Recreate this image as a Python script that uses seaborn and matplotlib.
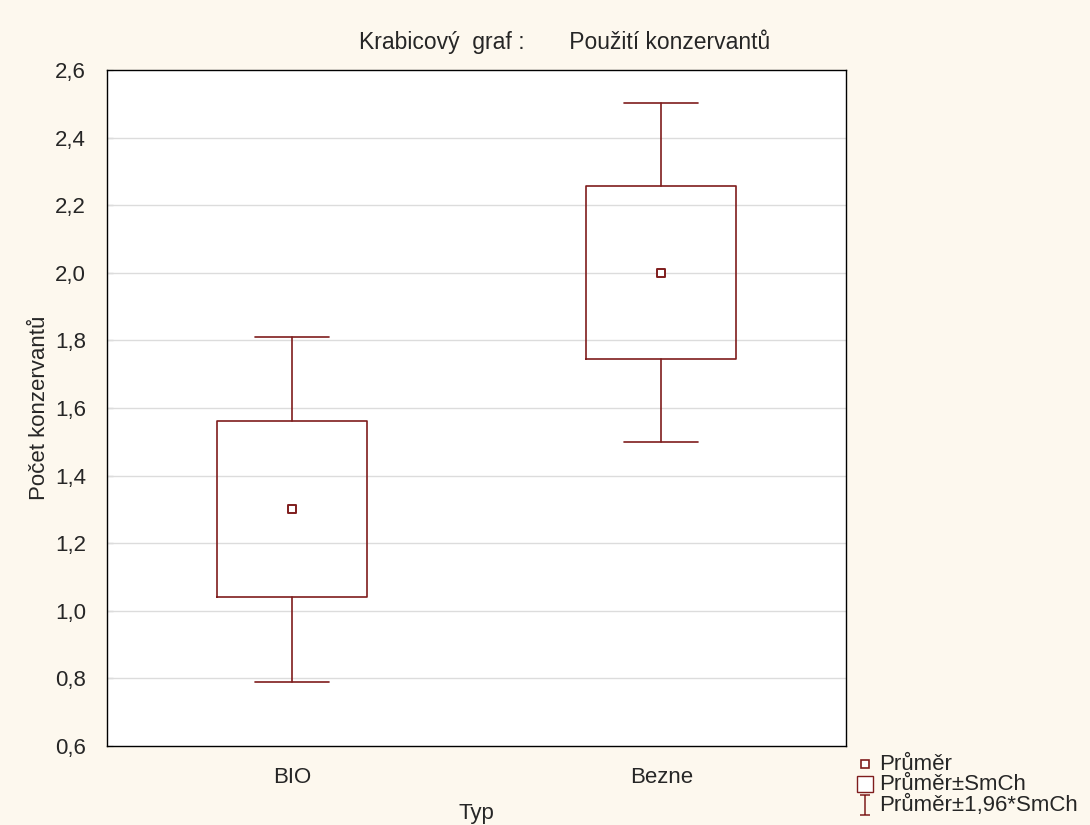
import matplotlib
matplotlib.use("Agg")
import matplotlib.pyplot as plt
import numpy as np
import pandas as pd
import seaborn as sns
from matplotlib.lines import Line2D
from matplotlib.path import Path
from matplotlib.ticker import FuncFormatter

# values
categories = ["BIO", "Bezne"]
means = [1.30, 2.00]
se = [0.26, 0.256]
yticks = [0.6, 0.8, 1.0, 1.2, 1.4, 1.6, 1.8, 2.0, 2.2, 2.4, 2.6]
legend_labels = ["Průměr", "Průměr±SmCh", "Průměr±1,96*SmCh"]

DARK_RED = "#7f1d1d"
BG = "#fdf8ee"
FS = 16

sns.set_theme(style="white")
plt.rcParams["font.family"] = ["Liberation Sans", "DejaVu Sans"]

fig = plt.figure(figsize=(10.9, 8.25), dpi=100, facecolor=BG)
ax = fig.add_axes([0.0982, 0.0958, 0.678, 0.8194])
ax.set_facecolor("white")

stats = []
for cat, m, s in zip(categories, means, se):
    stats.append({
        "label": cat, "med": m, "mean": m,
        "q1": m - s, "q3": m + s,
        "whislo": m - 1.96 * s, "whishi": m + 1.96 * s,
        "fliers": [],
    })

line_kw = dict(color=DARK_RED, linewidth=1.2)
ax.bxp(stats, positions=[0, 1], widths=0.405, capwidths=0.2,
       showmeans=False, showfliers=False,
       boxprops=line_kw, whiskerprops=line_kw, capprops=line_kw,
       medianprops=dict(linewidth=0), zorder=3)

df = pd.DataFrame({"Typ": [0, 1], "mean": means})
sns.scatterplot(data=df, x="Typ", y="mean", marker="s", s=40, color="white",
                edgecolor=DARK_RED, linewidth=1.4, ax=ax, zorder=4, legend=False)

ax.set_xlim(-0.5, 1.5)
ax.set_ylim(0.6, 2.6)
ax.set_yticks(yticks)
ax.yaxis.set_major_formatter(FuncFormatter(lambda v, _: f"{v:.1f}".replace(".", ",")))
ax.set_xticks([0, 1])
ax.set_xticklabels(categories)
for y in yticks[1:-1]:
    ax.axhline(y, color="#dcdcdc", linewidth=1.0, zorder=1)

ax.tick_params(axis="y", direction="in", length=4, width=0.8, color="#555555",
               labelsize=FS, pad=15, left=True)
ax.tick_params(axis="x", length=0, labelsize=FS, pad=15)
for sp in ax.spines.values():
    sp.set_color("black")
    sp.set_linewidth(1.0)

ax.set_xlabel("Typ", fontsize=FS, labelpad=11)
ax.set_ylabel("Počet konzervantů", fontsize=FS, labelpad=4)

fig.text(0.518, 0.949, "Krabicový  graf :       Použití konzervantů",
         ha="center", va="center", fontsize=16.5)

# legend drawn by hand so the rows sit as tightly as in the reference
ibeam = Path([(-0.5, 1), (0.5, 1), (0, 1), (0, -1), (-0.5, -1), (0.5, -1)],
             [Path.MOVETO, Path.LINETO, Path.MOVETO, Path.LINETO, Path.MOVETO, Path.LINETO])
key_styles = [
    dict(marker="s", markersize=5.5, markeredgewidth=1.2),
    dict(marker="s", markersize=12, markeredgewidth=1.0),
    dict(marker=ibeam, markersize=15, markeredgewidth=1.1),
]
row_y = [1 - 764 / 825, 1 - 784 / 825, 1 - 805 / 825]
for lab, ks, yy in zip(legend_labels, key_styles, row_y):
    fig.add_artist(Line2D([865 / 1090], [yy], linestyle="none", markerfacecolor="white",
                          markeredgecolor=DARK_RED, transform=fig.transFigure, **ks))
    fig.text(879 / 1090, yy, lab, ha="left", va="center", fontsize=FS)

fig.savefig("out.png", dpi=100, facecolor=BG)
